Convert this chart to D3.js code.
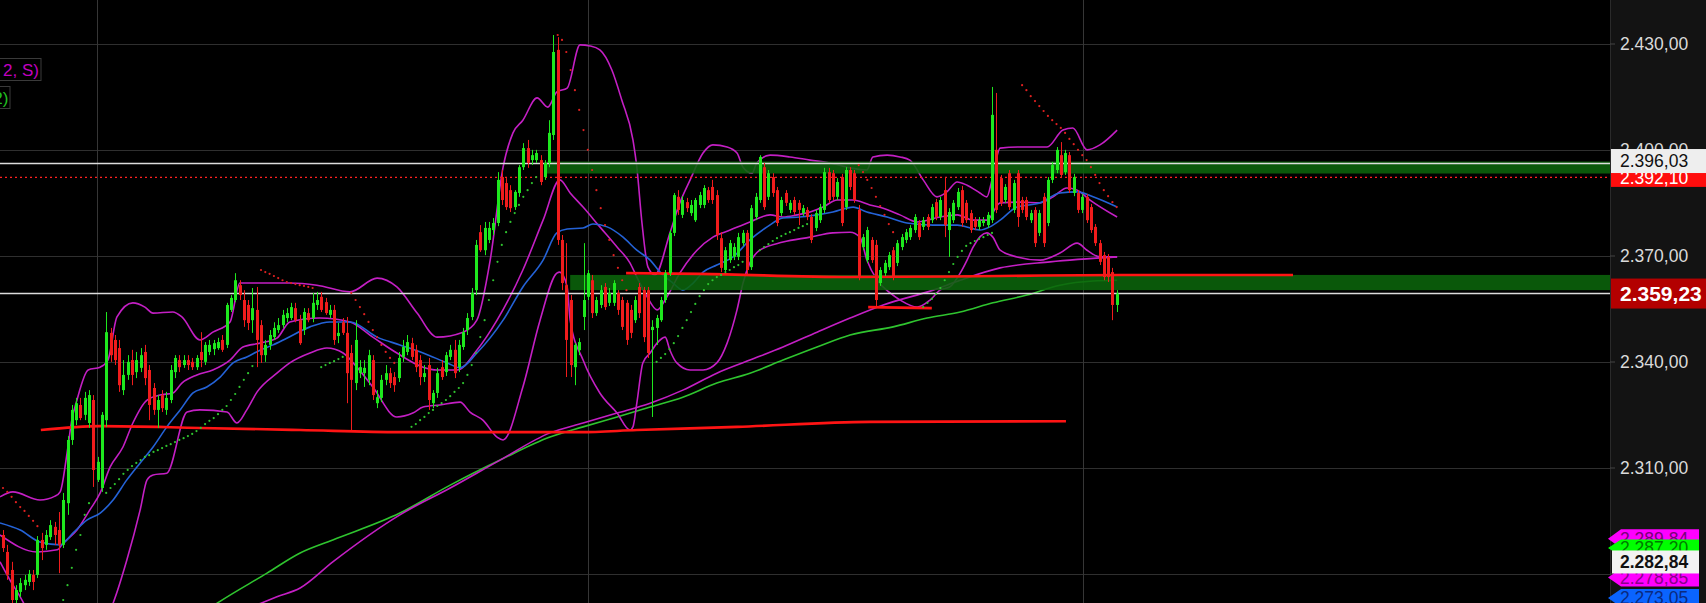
<!DOCTYPE html>
<html><head><meta charset="utf-8">
<script src="https://cdnjs.cloudflare.com/ajax/libs/d3/7.8.5/d3.min.js"></script>
<style>
html,body{margin:0;padding:0;background:#000;overflow:hidden;}
svg{display:block;}
text{font-family:"Liberation Sans",Arial,sans-serif;}
</style></head><body>
<svg id="chart" width="1706" height="603"></svg>
<script>
// ---------------- DATA ----------------
const priceTicks = [2430, 2400, 2370, 2340, 2310, 2280];
const sessionBreaks = [21.9, 136.0, 251.2];
// candles: [open, high, low, close]
const candles = [
[2290.9,2292.3,2286.1,2287.2],[2286.1,2288.1,2278.2,2279.6],[2281.0,2283.3,2271.6,2272.5],[2272.5,2276.7,2270.8,2275.3],[2274.8,2278.7,2273.4,2277.3],
[2276.7,2279.6,2275.3,2278.2],[2277.6,2281.0,2276.5,2279.9],[2279.6,2281.0,2275.3,2277.6],[2279.6,2290.6,2278.7,2289.5],[2289.5,2291.5,2283.8,2287.2],
[2288.1,2292.3,2286.7,2290.9],[2290.3,2295.1,2289.5,2293.7],[2293.2,2294.6,2288.1,2290.9],[2292.3,2297.4,2280.1,2288.1],[2288.1,2302.8,2287.2,2300.8],
[2299.9,2318.9,2296.6,2317.8],[2317.8,2327.7,2316.4,2326.3],[2323.4,2329.7,2322.0,2328.2],[2327.7,2329.7,2323.4,2324.0],[2324.9,2331.4,2323.4,2329.7],
[2322.6,2331.9,2321.2,2330.5],[2329.1,2330.5,2304.5,2309.3],[2306.5,2313.0,2305.9,2311.6],[2304.2,2325.7,2303.1,2324.9],[2323.4,2354.0,2321.5,2348.3],
[2348.1,2349.5,2339.9,2341.8],[2346.1,2347.5,2339.0,2340.4],[2343.8,2346.1,2331.4,2333.3],[2331.9,2340.4,2330.5,2336.2],[2336.2,2341.8,2334.8,2339.9],
[2340.4,2343.3,2333.3,2336.2],[2337.0,2342.7,2335.3,2340.4],[2338.2,2343.8,2337.0,2341.8],[2342.7,2344.7,2333.3,2335.3],[2337.6,2339.0,2323.4,2327.7],
[2332.5,2333.9,2324.9,2326.3],[2326.3,2330.5,2321.2,2329.1],[2330.5,2331.9,2325.7,2326.8],[2326.3,2331.4,2324.9,2329.7],[2329.1,2339.0,2328.2,2337.6],
[2337.0,2341.8,2335.3,2341.0],[2340.4,2341.8,2337.0,2338.4],[2339.0,2341.8,2338.2,2340.4],[2340.4,2341.8,2337.6,2339.0],[2339.9,2341.0,2337.6,2338.4],
[2338.4,2341.8,2337.6,2341.0],[2342.7,2348.3,2338.4,2340.4],[2339.9,2345.5,2339.0,2344.7],[2342.7,2346.1,2341.8,2344.7],[2343.5,2346.1,2341.8,2345.2],
[2343.8,2346.7,2343.3,2345.5],[2346.1,2347.5,2342.7,2343.3],[2344.7,2356.6,2343.8,2356.0],[2354.6,2358.8,2354.0,2358.0],[2357.4,2365.0,2356.8,2363.0],
[2361.6,2363.0,2357.4,2358.8],[2357.4,2360.2,2349.8,2351.7],[2356.0,2357.4,2348.9,2350.9],[2351.7,2360.8,2348.1,2355.1],[2354.6,2361.1,2338.4,2346.1],
[2350.3,2351.7,2339.6,2341.8],[2341.8,2346.1,2339.9,2344.7],[2344.7,2348.9,2343.3,2347.5],[2346.9,2351.1,2346.1,2349.5],[2348.9,2352.3,2348.1,2350.3],
[2350.3,2354.6,2349.5,2353.2],[2352.3,2355.1,2351.1,2353.7],[2352.3,2356.6,2351.7,2355.4],[2355.1,2356.6,2351.1,2351.7],[2351.7,2353.2,2344.7,2345.2],
[2348.9,2355.1,2347.5,2354.0],[2353.7,2355.1,2351.1,2351.7],[2352.3,2359.4,2351.1,2356.6],[2356.0,2359.7,2354.6,2357.4],[2358.3,2359.7,2354.0,2354.6],
[2356.8,2358.0,2353.2,2353.7],[2353.2,2356.0,2352.3,2354.6],[2354.6,2356.0,2344.7,2346.1],[2347.2,2350.9,2345.2,2348.1],[2351.1,2352.3,2347.5,2348.1],
[2348.1,2352.6,2328.2,2336.7],[2342.4,2344.7,2320.6,2334.8],[2333.9,2351.7,2331.9,2346.1],[2336.7,2340.4,2335.3,2338.4],[2336.7,2340.4,2332.8,2338.2],
[2334.8,2343.3,2333.3,2341.8],[2340.4,2341.8,2329.1,2330.5],[2328.2,2331.9,2326.8,2329.9],[2329.7,2336.2,2328.5,2334.8],[2334.8,2339.0,2333.3,2336.7],
[2336.7,2338.2,2332.5,2333.9],[2335.6,2337.0,2331.4,2333.3],[2335.3,2342.7,2334.2,2341.0],[2341.3,2346.1,2339.9,2344.1],[2342.7,2347.5,2341.8,2345.5],
[2345.2,2346.7,2340.4,2341.3],[2343.3,2344.7,2337.0,2338.4],[2340.4,2341.8,2333.3,2335.6],[2335.6,2339.0,2334.2,2336.7],[2339.0,2341.0,2326.3,2329.1],
[2328.2,2331.9,2326.8,2331.1],[2331.1,2338.2,2329.7,2336.7],[2338.4,2340.4,2334.8,2335.6],[2337.0,2342.7,2335.9,2341.8],[2341.3,2344.7,2340.4,2343.3],
[2343.3,2346.1,2335.3,2336.7],[2338.4,2346.1,2337.0,2344.7],[2344.1,2349.5,2343.3,2348.3],[2348.9,2353.7,2347.5,2352.3],[2352.6,2360.8,2351.7,2359.4],
[2360.2,2374.4,2358.8,2373.0],[2376.6,2378.6,2371.0,2371.5],[2371.5,2379.5,2370.1,2377.8],[2374.4,2379.5,2373.5,2377.8],[2377.2,2380.6,2375.8,2379.2],
[2379.2,2393.6,2378.3,2391.4],[2392.2,2394.2,2384.3,2385.7],[2390.5,2391.9,2382.9,2383.7],[2388.5,2389.9,2382.3,2383.4],[2383.7,2388.5,2382.9,2388.0],
[2387.7,2395.6,2386.6,2395.0],[2395.0,2401.8,2394.2,2400.4],[2400.4,2402.7,2394.8,2396.2],[2397.0,2399.9,2395.6,2398.4],[2397.0,2399.9,2396.2,2399.0],
[2397.0,2398.4,2389.9,2390.8],[2392.2,2397.0,2391.4,2396.2],[2396.2,2408.3,2395.0,2404.7],[2404.1,2432.4,2402.7,2427.6],[2428.2,2431.8,2373.0,2374.4],
[2374.4,2375.8,2360.2,2362.2],[2361.6,2373.5,2335.6,2346.1],[2357.4,2358.8,2335.6,2339.0],[2338.4,2345.2,2333.3,2344.7],[2343.2,2346.6,2341.8,2345.5],
[2352.6,2373.5,2348.9,2357.4],[2358.3,2365.9,2357.4,2365.0],[2363.0,2364.5,2352.3,2353.7],[2353.7,2358.3,2352.9,2357.4],[2356.0,2361.6,2355.1,2360.2],
[2361.1,2362.2,2354.6,2355.4],[2356.6,2360.8,2355.7,2359.4],[2356.6,2363.0,2355.7,2362.2],[2359.4,2360.2,2353.2,2354.6],[2357.4,2358.3,2348.9,2349.8],
[2356.6,2357.4,2344.7,2346.1],[2354.6,2356.0,2346.6,2348.1],[2351.7,2358.5,2350.9,2357.4],[2361.1,2362.2,2352.3,2353.7],[2360.2,2361.1,2345.5,2346.9],
[2360.2,2361.1,2341.0,2342.4],[2348.9,2351.7,2324.3,2349.8],[2349.5,2353.2,2344.7,2352.3],[2351.7,2358.3,2351.2,2357.4],[2357.4,2365.9,2356.6,2365.0],
[2365.0,2377.2,2364.2,2376.4],[2376.4,2387.7,2375.5,2387.1],[2386.6,2388.5,2381.5,2382.9],[2381.5,2386.8,2380.6,2385.7],[2385.1,2386.3,2382.3,2383.4],
[2382.0,2385.7,2381.2,2384.3],[2380.0,2386.3,2379.5,2385.7],[2384.3,2388.0,2383.4,2387.1],[2384.3,2389.9,2383.4,2389.1],[2388.5,2389.4,2384.9,2385.7],
[2389.4,2391.4,2384.6,2385.7],[2387.1,2388.5,2374.4,2375.8],[2374.9,2376.6,2365.3,2366.5],[2365.9,2372.4,2365.0,2371.5],[2368.7,2374.4,2367.9,2373.5],
[2369.6,2373.5,2368.7,2372.4],[2369.6,2376.4,2368.7,2375.2],[2373.5,2377.2,2372.7,2376.4],[2376.4,2377.2,2364.5,2365.9],[2366.7,2384.3,2365.9,2383.4],
[2380.9,2387.7,2380.0,2386.6],[2385.7,2398.4,2384.9,2397.9],[2395.0,2396.2,2382.9,2383.7],[2386.6,2394.2,2385.7,2393.3],[2392.2,2393.3,2386.6,2387.7],
[2388.5,2389.4,2378.3,2379.2],[2382.0,2386.6,2381.2,2385.7],[2387.7,2388.5,2384.0,2384.9],[2382.9,2385.7,2382.0,2384.9],[2385.7,2386.6,2381.5,2382.3],
[2384.9,2385.7,2378.6,2382.9],[2382.0,2384.3,2381.2,2383.4],[2382.9,2383.7,2380.0,2380.9],[2380.9,2381.7,2373.5,2374.4],[2377.8,2382.9,2376.9,2382.0],
[2380.0,2384.6,2379.2,2383.7],[2382.9,2394.8,2382.0,2393.6],[2393.6,2394.8,2384.9,2385.7],[2393.3,2394.2,2385.7,2386.6],[2386.6,2391.9,2385.7,2390.8],
[2392.2,2393.1,2378.3,2379.2],[2383.7,2395.0,2382.9,2394.2],[2394.2,2395.0,2388.5,2389.4],[2393.3,2394.2,2384.9,2385.7],[2382.9,2384.3,2363.0,2363.9],
[2372.4,2376.1,2371.5,2375.2],[2368.7,2378.1,2367.9,2377.2],[2374.4,2375.2,2367.9,2368.7],[2373.0,2374.4,2355.4,2357.4],[2362.2,2366.7,2361.4,2365.9],
[2365.0,2368.7,2364.2,2367.9],[2366.7,2371.0,2365.9,2370.1],[2371.5,2372.4,2363.0,2363.9],[2367.9,2374.4,2367.0,2373.5],[2372.4,2376.1,2371.5,2375.2],
[2374.4,2377.5,2373.5,2376.6],[2375.2,2378.6,2374.4,2377.8],[2377.2,2381.7,2376.4,2380.9],[2379.2,2380.0,2374.4,2375.2],[2378.1,2380.9,2377.2,2380.0],
[2380.9,2381.7,2377.2,2378.1],[2380.0,2384.6,2379.2,2383.7],[2385.1,2386.0,2380.0,2380.9],[2380.9,2386.6,2380.0,2385.7],[2388.5,2392.2,2375.2,2378.6],
[2377.2,2383.4,2369.6,2382.3],[2380.0,2385.7,2379.2,2384.9],[2383.7,2389.1,2382.9,2388.0],[2388.5,2389.7,2378.1,2379.2],[2384.9,2385.7,2379.2,2380.0],
[2382.0,2382.9,2376.4,2377.2],[2380.0,2380.9,2377.2,2378.1],[2378.1,2380.9,2377.2,2380.0],[2379.2,2380.9,2378.3,2380.0],[2378.6,2382.3,2377.8,2381.5],
[2380.0,2417.7,2379.2,2409.8],[2399.9,2416.0,2382.0,2382.9],[2391.9,2392.8,2384.0,2384.9],[2385.7,2390.2,2384.9,2389.4],[2393.3,2394.2,2382.9,2383.7],
[2382.9,2391.4,2382.0,2390.5],[2393.3,2394.2,2378.1,2380.9],[2385.7,2386.6,2382.0,2382.9],[2385.7,2386.6,2380.0,2380.9],[2380.0,2382.9,2379.2,2382.0],
[2382.9,2383.7,2372.4,2373.5],[2376.4,2382.9,2375.5,2382.0],[2386.6,2387.7,2372.4,2373.5],[2379.2,2392.2,2378.3,2391.4],[2391.4,2396.5,2390.5,2395.6],
[2394.2,2400.7,2393.3,2399.9],[2398.4,2402.1,2391.9,2392.8],[2393.6,2399.9,2392.8,2399.0],[2398.4,2399.3,2387.7,2388.5],[2387.7,2393.1,2386.8,2392.2],
[2387.7,2388.5,2382.0,2382.9],[2382.9,2387.4,2382.0,2386.6],[2386.6,2387.4,2379.2,2380.0],[2383.7,2384.6,2376.4,2377.2],[2378.1,2378.9,2372.7,2373.5],
[2373.5,2374.4,2367.3,2368.2],[2370.1,2371.0,2363.0,2363.9],[2369.6,2370.4,2362.5,2363.9],[2365.3,2366.5,2351.7,2356.0],[2356.0,2360.2,2354.0,2359.23]
];
// indicator lines: [bar, price]
const upperBand = [[-0.7,2301.7],[2.3,2303.1],[8.6,2300.8],[12.1,2301.9],[13.3,2303.1],[14.9,2314.1],[16.0,2323.4],[17.2,2329.1],[19.8,2337.6],[22.6,2338.4],[24.4,2340.4],[26.5,2352.6],[30.2,2356.6],[33.0,2355.4],[34.9,2353.7],[39.5,2354.0],[41.6,2352.6],[45.8,2346.1],[48.8,2348.3],[52.8,2351.2],[55.1,2362.2],[59.8,2362.2],[66.7,2362.2],[73.0,2361.6],[80.7,2359.7],[87.0,2363.6],[91.6,2361.1],[96.3,2353.7],[100.9,2346.9],[107.0,2348.3],[110.2,2351.7],[113.3,2368.7],[116.3,2395.0],[118.6,2404.7],[120.9,2408.3],[124.2,2414.6],[126.7,2412.0],[128.8,2416.3],[131.2,2417.4],[134.2,2429.6],[136.5,2429.3],[138.8,2428.2],[141.6,2422.5],[143.9,2414.0],[146.5,2402.7],[147.4,2395.0],[148.6,2379.2],[150.0,2366.7],[151.6,2364.5],[155.1,2376.4],[157.4,2384.9],[159.8,2391.4],[162.8,2399.0],[165.1,2401.3],[168.4,2400.7],[170.7,2399.0],[172.1,2395.0],[174.2,2393.3],[175.3,2396.2],[178.4,2398.4],[183.0,2397.9],[187.7,2397.0],[192.3,2396.2],[197.0,2394.8],[200.9,2394.2],[202.3,2397.9],[205.6,2398.4],[208.6,2397.9],[210.9,2397.0],[214.0,2391.4],[217.2,2386.6],[219.5,2388.0],[221.9,2390.8],[224.2,2389.9],[227.2,2387.7],[228.8,2386.6],[230.0,2391.4],[231.9,2400.4],[236.5,2400.7],[242.8,2400.7],[246.5,2405.5],[248.8,2406.1],[252.1,2399.9],[255.1,2401.3],[259.1,2405.5]];
const middleBand = [[-0.7,2290.9],[7.9,2286.1],[12.6,2286.7],[14.0,2288.6],[17.2,2292.3],[20.2,2298.0],[22.6,2302.8],[24.9,2310.1],[27.9,2315.8],[30.2,2322.6],[33.5,2329.1],[36.5,2330.5],[39.5,2331.1],[41.6,2333.9],[45.1,2336.2],[48.8,2337.6],[52.8,2340.4],[55.8,2344.1],[59.8,2345.2],[63.7,2346.6],[66.7,2351.2],[73.7,2352.3],[80.7,2351.2],[86.0,2346.9],[91.6,2342.4],[97.7,2338.4],[100.9,2337.6],[105.6,2337.6],[110.2,2343.2],[114.9,2351.7],[120.9,2365.9],[125.6,2380.0],[129.5,2391.4],[131.9,2387.7],[134.9,2383.7],[138.8,2378.1],[142.8,2372.4],[145.8,2367.9],[147.4,2363.9],[149.8,2358.3],[152.1,2354.6],[154.4,2358.3],[157.4,2365.0],[161.4,2371.5],[165.1,2375.2],[169.1,2377.2],[173.7,2379.5],[178.4,2381.5],[181.4,2380.9],[184.7,2381.5],[187.7,2382.3],[190.7,2383.7],[194.0,2385.7],[197.7,2385.7],[201.6,2384.3],[204.7,2383.4],[208.6,2381.5],[212.6,2379.5],[217.9,2380.9],[221.9,2381.5],[225.6,2380.0],[228.8,2380.0],[231.9,2384.9],[236.5,2385.1],[241.2,2384.9],[244.2,2386.6],[247.4,2389.1],[249.8,2388.5],[252.8,2385.7],[259.1,2380.9]];
const lowerBand = [[-0.7,2283.3],[1.6,2278.2],[4.0,2273.4],[6.3,2268.3],[10.9,2261.2],[17.9,2258.4],[22.6,2264.0],[25.6,2271.6],[28.8,2283.8],[31.9,2298.0],[33.5,2306.5],[34.9,2307.9],[38.1,2308.4],[42.8,2325.7],[45.8,2326.3],[52.1,2325.7],[54.4,2322.6],[56.7,2326.3],[59.1,2331.4],[63.7,2336.7],[66.7,2339.6],[71.4,2342.4],[75.3,2343.8],[79.1,2342.4],[82.3,2338.4],[86.0,2332.8],[91.6,2324.3],[95.3,2325.4],[97.7,2327.1],[101.6,2327.7],[106.3,2328.5],[108.6,2325.7],[111.6,2323.4],[114.9,2318.6],[116.3,2317.8],[120.9,2332.8],[124.9,2351.7],[128.8,2365.0],[129.5,2365.3],[131.2,2361.1],[131.9,2351.7],[134.9,2340.4],[138.8,2331.1],[142.8,2325.4],[145.8,2320.6],[146.5,2321.5],[147.4,2328.2],[148.8,2339.6],[150.5,2342.4],[152.1,2345.2],[154.0,2346.9],[155.1,2343.2],[156.7,2339.6],[159.8,2337.6],[162.8,2337.6],[166.0,2339.6],[168.4,2345.2],[170.7,2354.6],[172.1,2362.2],[173.7,2367.9],[176.0,2371.5],[181.4,2373.8],[187.7,2375.2],[193.0,2376.4],[197.0,2376.6],[199.3,2375.2],[200.9,2368.7],[203.3,2363.0],[206.3,2359.4],[208.6,2357.4],[212.6,2355.4],[215.6,2357.4],[217.9,2360.2],[220.2,2361.1],[222.6,2365.0],[224.2,2368.7],[225.6,2372.4],[228.8,2376.4],[230.2,2375.2],[231.9,2371.5],[235.8,2369.6],[241.2,2368.7],[245.8,2370.7],[249.8,2373.5],[252.1,2371.5],[255.1,2369.6],[259.1,2369.6]];
const blueAverage = [[-0.7,2294.3],[4.0,2292.3],[8.6,2288.9],[13.3,2288.1],[16.3,2291.5],[19.5,2295.1],[22.6,2297.1],[25.6,2300.8],[28.8,2306.5],[31.9,2311.3],[34.9,2315.8],[38.1,2321.5],[41.2,2326.3],[44.2,2331.1],[47.4,2332.8],[50.5,2335.6],[53.5,2339.6],[56.7,2341.3],[59.8,2343.2],[62.8,2344.7],[66.0,2346.6],[71.4,2349.8],[76.0,2351.2],[80.7,2351.2],[87.0,2346.9],[92.3,2344.7],[97.7,2342.4],[103.3,2339.6],[106.3,2338.2],[110.2,2342.4],[116.3,2351.7],[120.9,2361.1],[125.6,2368.7],[128.8,2376.4],[131.2,2377.5],[134.9,2377.8],[137.2,2378.9],[140.5,2378.1],[144.2,2375.2],[147.4,2371.5],[150.5,2368.7],[152.8,2365.3],[155.8,2362.2],[158.1,2360.2],[160.5,2362.2],[162.8,2365.3],[166.0,2367.3],[169.8,2369.6],[173.7,2374.4],[177.7,2378.1],[181.4,2380.6],[185.3,2380.9],[189.3,2381.5],[193.0,2382.3],[197.7,2383.7],[200.9,2382.3],[205.6,2380.9],[210.2,2379.2],[216.3,2378.6],[221.9,2378.6],[227.2,2377.2],[229.5,2378.1],[231.9,2380.0],[235.8,2383.7],[241.2,2384.9],[245.8,2387.7],[249.8,2388.0],[253.5,2386.6],[259.1,2383.7]];
const longMagenta = [[52.8,2268.3],[60.0,2271.6],[63.7,2273.4],[69.1,2275.9],[76.7,2283.3],[92.3,2296.6],[104.0,2304.2],[115.6,2312.1],[127.2,2319.8],[134.9,2322.6],[142.8,2325.4],[150.5,2328.2],[158.1,2331.9],[166.0,2336.7],[173.7,2340.4],[181.4,2344.1],[189.3,2348.3],[197.0,2352.3],[204.7,2356.0],[216.3,2360.2],[222.6,2363.0],[231.9,2366.5],[243.5,2368.2],[259.1,2369.6]];
const longGreen = [[45.8,2268.3],[49.8,2271.6],[61.4,2280.1],[69.1,2285.8],[76.7,2289.5],[92.3,2297.1],[104.0,2305.0],[115.6,2312.1],[127.2,2318.6],[134.9,2321.5],[142.8,2324.3],[150.5,2327.1],[158.1,2329.9],[166.0,2333.9],[173.7,2336.7],[181.4,2340.4],[189.3,2344.1],[197.0,2347.5],[207.0,2349.8],[214.9,2352.3],[222.6,2354.0],[230.2,2356.6],[238.1,2358.8],[245.8,2361.6],[253.5,2362.8],[259.1,2363.0]];
const supportLine = [[8.8,2320.6],[22.6,2321.7],[45.8,2321.2],[69.1,2320.6],[92.3,2320.0],[134.2,2320.0],[147.4,2320.6],[170.7,2321.5],[201.6,2322.9],[247.2,2323.1]];
const rangeLine = [[144.9,2365.0],[162.1,2364.8],[197.0,2363.9],[231.9,2364.2],[259.8,2364.5],[300.0,2364.5]];
const lowLine = [[201.2,2355.4],[216.0,2355.1]];
// zones: [startBar, top, bottom]
const zones = [[126.5,2396.6,2393.2],[131.9,2364.5,2360.2]];
const whiteLevels = [2396.03, 2359.23];
const redLevel = 2392.10;
// parabolic SAR dots
const sarRed = [[0,2304.2],[1,2303.1],[2,2301.7],[3,2300.2],[4,2298.8],[5,2297.7],[6,2296.3],[7,2294.9],[8,2293.4],
[60,2365.9],[61,2365.3],[62,2364.8],[63,2364.2],[64,2363.6],[65,2363.0],[66,2362.5],[67,2362.2],[68,2361.9],[69,2361.6],[70,2361.4],[71,2361.1],[72,2360.8],
[81,2359.4],[82,2357.4],[83,2355.4],[84,2353.4],[85,2351.2],[86,2348.9],[87,2346.9],[88,2344.7],[89,2342.7],[90,2341.0],[91,2339.6],
[129,2432.4],[130,2431.0],[131,2427.6],[132,2422.5],[133,2416.8],[134,2411.2],[135,2405.5],[136,2399.9],[137,2394.2],[138,2388.5],[139,2383.4],[140,2378.6],[141,2374.4],[142,2370.1],[143,2366.5],[144,2363.0],[145,2360.2],
[199,2395.6],[200,2393.6],[201,2391.4],[202,2389.1],[203,2386.6],[204,2384.0],[205,2381.5],[206,2378.9],[207,2376.6],
[237,2418.2],[238,2416.8],[239,2415.1],[240,2413.7],[241,2412.3],[242,2410.9],[243,2409.5],[244,2408.3],[245,2407.2],[246,2406.1],[247,2404.7],[248,2403.0],[249,2401.5],[250,2399.9],[251,2398.4],[252,2397.0],[253,2395.0],[254,2392.8],[255,2390.5],[256,2388.5],[257,2386.8],[258,2385.1],[259,2383.7]];
const sarGreen = [[14,2272.5],[15,2276.7],[16,2281.6],[17,2286.7],[18,2290.9],[19,2296.6],[20,2299.9],
[24,2302.8],[25,2304.2],[26,2305.3],[27,2306.7],[28,2308.2],[29,2309.3],[30,2310.4],[31,2311.3],[32,2312.1],[33,2313.0],[34,2313.5],[35,2314.4],[36,2314.9],[37,2315.5],[38,2316.1],[39,2316.6],[40,2317.2],[41,2317.8],[42,2318.3],[43,2318.9],[44,2319.5],[45,2320.3],[46,2321.2],[47,2322.3],[48,2323.2],[49,2324.0],[50,2325.1],[51,2326.3],[52,2327.4],[53,2329.1],[54,2330.8],[55,2332.8],[56,2334.8],[57,2336.7],[58,2338.7],
[74,2338.4],[75,2339.0],[76,2339.6],[77,2340.1],[78,2340.7],[79,2341.3],
[95,2321.5],[96,2322.3],[97,2323.4],[98,2324.3],[99,2325.4],[100,2326.3],[101,2327.4],[102,2328.2],[103,2329.1],[104,2330.2],[105,2331.4],[106,2332.5],[107,2333.9],[108,2336.2],[109,2339.0],[110,2342.4],[111,2346.9],[112,2351.7],[113,2357.4],[114,2363.0],[115,2368.2],[116,2373.0],[117,2376.6],[118,2379.5],[119,2382.0],[120,2384.3],[121,2386.6],[122,2388.5],[123,2390.5],[124,2392.2],
[152,2339.9],[153,2341.0],[154,2342.1],[155,2343.5],[156,2345.2],[157,2347.2],[158,2349.5],[159,2351.7],[160,2354.0],[161,2356.3],[162,2358.5],[163,2360.2],[164,2361.9],[165,2363.0],[166,2363.9],[167,2364.5],[168,2365.3],[169,2365.9],[170,2366.7],[171,2367.3],[172,2368.2],
[176,2371.5],[177,2372.4],[178,2373.2],[179,2374.1],[180,2374.9],[181,2375.5],[182,2376.1],[183,2376.6],[184,2377.2],[185,2377.8],[186,2378.3],[187,2378.9],
[214,2355.4],[215,2356.6],[216,2357.7],[217,2359.1],[218,2360.8],[219,2363.0],[220,2365.3],[221,2367.6],[222,2369.6],[223,2371.3],[224,2372.7],[225,2373.5],[226,2374.1],[227,2374.7],[228,2375.2],[229,2375.8],[230,2376.4]];
// stacked indicator tags at the bottom of the price scale
const sideTagValues = [2289.84, 2287.20, 2278.85, 2273.05, 2282.84];
const legendTexts = ["2, S)", "2)"];

// ---------------- DRAW ----------------
const W = 1706, H = 603, plotRight = 1610;
const fmt = d3.formatLocale({decimal: ",", thousands: ".", grouping: [3], currency: ["", ""]}).format(",.2f");
const svg = d3.select("#chart");
svg.append("rect").attr("width", W).attr("height", H).attr("fill", "#000");
svg.append("rect").attr("x", plotRight).attr("width", W - plotRight).attr("height", H).attr("fill", "#131313");

const x = d3.scaleLinear().domain([0, 259]).range([3, 1116.7]);
const y = d3.scaleLinear().domain([2430, 2310]).range([43.5, 467.5]);

svg.append("defs").append("clipPath").attr("id", "clip")
  .append("rect").attr("x", 0).attr("y", 0).attr("width", plotRight).attr("height", H);
const plot = svg.append("g").attr("clip-path", "url(#clip)");

// grid
plot.append("g").selectAll("line").data(priceTicks).join("line")
  .attr("x1", 0).attr("x2", plotRight).attr("y1", d => Math.round(y(d)) + 0.5).attr("y2", d => Math.round(y(d)) + 0.5)
  .attr("stroke", "#2f2f2f").attr("stroke-width", 1);
plot.append("g").selectAll("line").data(sessionBreaks).join("line")
  .attr("x1", d => Math.round(x(d)) + 0.5).attr("x2", d => Math.round(x(d)) + 0.5).attr("y1", 0).attr("y2", H)
  .attr("stroke", "#363636").attr("stroke-width", 1);

const line = d3.line().x(d => x(d[0])).y(d => y(d[1])).curve(d3.curveMonotoneX);
const linePath = (data, color, w) => plot.append("path").datum(data).attr("d", line)
  .attr("fill", "none").attr("stroke", color).attr("stroke-width", w).attr("stroke-linejoin", "round");

linePath(longGreen, "#2fc42f", 1.6);
linePath(longMagenta, "#c41fc4", 1.6);
linePath(lowerBand, "#c41fc4", 1.6);
linePath(upperBand, "#c41fc4", 1.6);
linePath(middleBand, "#c41fc4", 1.6);
linePath(blueAverage, "#2462d6", 1.6);

// zones
plot.append("g").selectAll("rect").data(zones).join("rect")
  .attr("x", d => x(d[0])).attr("width", d => plotRight - x(d[0]))
  .attr("y", d => y(d[1])).attr("height", d => y(d[2]) - y(d[1]))
  .attr("fill", "#0b640b").attr("opacity", 0.88);

// red horizontal structure lines
linePath(supportLine, "#ff1414", 2.6);
linePath(rangeLine, "#ff1414", 2.6);
plot.append("path").datum(lowLine).attr("d", d3.line().x(d => x(d[0])).y(d => y(d[1])))
  .attr("fill", "none").attr("stroke", "#ff1414").attr("stroke-width", 2.6);

// level lines
plot.append("g").selectAll("line").data(whiteLevels).join("line")
  .attr("x1", 0).attr("x2", plotRight).attr("y1", d => y(d)).attr("y2", d => y(d))
  .attr("stroke", "#dcdcdc").attr("stroke-width", 1.4);
plot.append("line").attr("x1", 0).attr("x2", plotRight).attr("y1", y(redLevel)).attr("y2", y(redLevel))
  .attr("stroke", "#ff2020").attr("stroke-width", 1.2).attr("stroke-dasharray", "2,3");

// candles
const UP = "#1ee81e", DOWN = "#f01c1c";
const cg = plot.append("g");
candles.forEach((c, i) => {
  const [o, h, l, cl] = c;
  const col = cl >= o ? UP : DOWN;
  const cx = Math.round(x(i)) + 0.5;
  cg.append("line").attr("x1", cx).attr("x2", cx)
    .attr("y1", y(Math.max(h, o, cl))).attr("y2", y(Math.min(l, o, cl)))
    .attr("stroke", col).attr("stroke-width", 1);
  const top = y(Math.max(o, cl)), bot = y(Math.min(o, cl));
  cg.append("rect").attr("x", cx - 1.5).attr("width", 3)
    .attr("y", top).attr("height", Math.max(1, bot - top)).attr("fill", col);
});

// SAR dots
plot.append("g").selectAll("circle").data(sarRed).join("circle")
  .attr("cx", d => x(d[0])).attr("cy", d => y(d[1])).attr("r", 1.1).attr("fill", "#e02020");
plot.append("g").selectAll("circle").data(sarGreen).join("circle")
  .attr("cx", d => x(d[0])).attr("cy", d => y(d[1])).attr("r", 1.1).attr("fill", "#2fc42f");

// price axis
svg.append("line").attr("x1", plotRight + 0.5).attr("x2", plotRight + 0.5).attr("y1", 0).attr("y2", H)
  .attr("stroke", "#2a2a2a");
const axis = svg.append("g").attr("transform", `translate(${plotRight},0)`)
  .call(d3.axisRight(y).tickValues(priceTicks).tickFormat(fmt).tickSize(5).tickPadding(5));
axis.select(".domain").remove();
axis.selectAll(".tick line").attr("stroke", "#444");
axis.selectAll(".tick text").attr("fill", "#dadada").style("font-size", "17.5px")
  .style("font-family", "'Liberation Sans', Arial, sans-serif");

// price tags (right side)
const tags = svg.append("g");
function rectTag(v, shift, h, fill, color, size, weight) {
  const cy = y(v) + shift;
  tags.append("rect").attr("x", plotRight + 1).attr("y", cy - h / 2).attr("width", W - plotRight - 1).attr("height", h).attr("fill", fill);
  tags.append("text").attr("x", plotRight + 10).attr("y", cy).attr("dy", "0.36em")
    .attr("fill", color).style("font-size", size + "px").style("font-weight", weight).text(fmt(v));
}
function arrowTag(v, h, fill, color, weight) {
  const cy = y(v), top = cy - h / 2, bot = cy + h / 2;
  tags.append("path").attr("d", `M${plotRight - 2},${cy}L${plotRight + 11},${top}L1699,${top}L1699,${bot}L${plotRight + 11},${bot}Z`).attr("fill", fill);
  tags.append("text").attr("x", plotRight + 10).attr("y", cy).attr("dy", "0.36em")
    .attr("fill", color).style("font-size", "17.5px").style("font-weight", weight).text(fmt(v));
}
rectTag(redLevel, 0.5, 18, "#ff0d0d", "#ffffff", 17.5, "normal");
rectTag(whiteLevels[0], -2.5, 24, "#eeeeee", "#111111", 17.5, "normal");
rectTag(candles[candles.length - 1][3], 0, 30, "#b30000", "#ffffff", 21, "bold");
arrowTag(sideTagValues[0], 19, "#ff00ff", "#7a007a", "normal");
arrowTag(sideTagValues[1], 17, "#00ff00", "#007a00", "normal");
arrowTag(sideTagValues[2], 18, "#ff00ff", "#8a008a", "normal");
arrowTag(sideTagValues[3], 18, "#0a64ff", "#0a2a80", "normal");
// white tag (rectangle)
{
  const v = sideTagValues[4], cy = y(v) - 1.5;
  tags.append("rect").attr("x", plotRight + 2).attr("y", cy - 11.5).attr("width", 1699 - plotRight - 2).attr("height", 23).attr("fill", "#f2f2f2");
  tags.append("text").attr("x", plotRight + 10).attr("y", cy).attr("dy", "0.36em")
    .attr("fill", "#111").style("font-size", "17.5px").style("font-weight", "bold").text(fmt(v));
}

// legend boxes (cut off at the left edge)
const lg = svg.append("g");
lg.append("rect").attr("x", -2).attr("y", 58.5).attr("width", 43).attr("height", 22).attr("fill", "#000").attr("stroke", "#3a3a3a");
lg.append("text").attr("x", 3).attr("y", 76).attr("fill", "#c000c0").style("font-size", "17px").text(legendTexts[0]);
lg.append("rect").attr("x", -2).attr("y", 86.5).attr("width", 12).attr("height", 22).attr("fill", "#000").attr("stroke", "#3a3a3a");
lg.append("text").attr("x", -6.8).attr("y", 104).attr("fill", "#22c022").style("font-size", "17px").text(legendTexts[1]);
</script>
</body></html>
